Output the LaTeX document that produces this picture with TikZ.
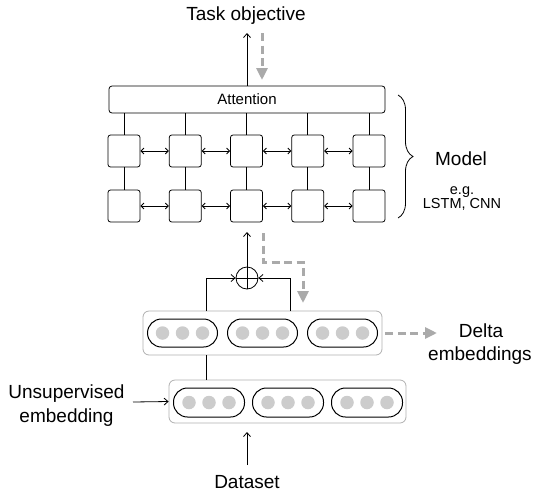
\documentclass[tikz,border=0pt]{standalone}
\usepackage{fontspec}
\setmainfont{Liberation Sans}
\usetikzlibrary{arrows.meta,decorations.pathreplacing,calc}
\definecolor{flowgray}{HTML}{AAAAAA}
\definecolor{dotgray}{HTML}{CCCCCC}
\definecolor{boxgray}{HTML}{B0B0B0}
\tikzset{
  biglabel/.style={font=\fontsize{19}{23}\selectfont, inner sep=0pt, align=center},
  smalllabel/.style={font=\fontsize{14.5}{15}\selectfont, inner sep=0pt},
  cellbox/.style={draw, rounded corners=2.5pt, minimum size=32pt, inner sep=0pt, line width=0.8pt},
  attnbox/.style={draw, rounded corners=3pt, minimum width=276pt, minimum height=27pt, inner sep=0pt, line width=0.8pt, font=\fontsize{15}{16}\selectfont},
  containerbox/.style={draw=boxgray, rounded corners=6pt, line width=0.8pt, inner sep=0pt},
  pillbox/.style={draw, rounded corners=14pt, minimum width=70pt, minimum height=28pt, inner sep=0pt, line width=1pt},
  dotnode/.style={circle, fill=dotgray, minimum size=13.5pt, inner sep=0pt},
  plusnode/.style={draw, circle, minimum size=22pt, inner sep=0pt, line width=0.8pt},
  link/.style={line width=0.8pt},
  arr/.style={line width=0.8pt, -{Straight Barb[length=4pt,width=7pt]}},
  dblarr/.style={line width=0.8pt, {Straight Barb[length=3pt,width=6pt]}-{Straight Barb[length=3pt,width=6pt]}},
  grayflow/.style={draw=flowgray, line width=3pt, dash pattern=on 8pt off 4.5pt, -{Triangle[length=12pt,width=11pt]}},
}
\begin{document}
\begin{tikzpicture}[x=1pt,y=-1pt]
\useasboundingbox (0,0) rectangle (535,493);

% top
\node[biglabel, anchor=base] (task) at (246,20) {Task objective};
\node[attnbox] (att) at (247,99.5) {Attention};
\coordinate (taskin) at (247,33);
\coordinate (gtop1) at (262,33);
\coordinate (gtop2) at (262,80);
\draw[arr] (att.north -| taskin) -- (taskin);
\draw[grayflow] (gtop1) -- (gtop2);

% cells
\foreach \i/\x in {1/124,2/185.25,3/246.5,4/307.75,5/369}{
  \node[cellbox] (a\i) at (\x,151) {};
  \node[cellbox] (b\i) at (\x,206) {};
  \draw[link] (att.south -| a\i) -- (a\i.north);
  \draw[link] (a\i.south) -- (b\i.north);
}
\foreach \i/\j in {1/2,2/3,3/4,4/5}{
  \draw[dblarr] (a\i.east) -- (a\j.west);
  \draw[dblarr] (b\i.east) -- (b\j.west);
}

% brace and model label
\coordinate (brtop) at (398,95);
\coordinate (brbot) at (398,218);
\draw[decorate, decoration={brace, amplitude=15pt}, line width=0.8pt] (brtop) -- (brbot);
\node[biglabel, anchor=base] (model) at (461,165) {Model};
\node[smalllabel, anchor=base] (eg) at (462,194) {e.g.};
\node[smalllabel, anchor=base] (lstm) at (462,208.5) {LSTM, CNN};

% plus
\node[plusnode] (plus) at (247,278) {};
\draw[link] (plus.north) -- (plus.south);
\draw[link] (plus.west) -- (plus.east);
\coordinate (plusup) at (247,232);
\draw[arr] (plus.north) -- (plusup);

% delta container
\node[containerbox, minimum width=239pt, minimum height=44pt] (delta) at (262.5,333) {};
\foreach \k/\x in {1/182.5,2/262.5,3/342.5}{
  \node[pillbox] (dp\k) at (\x,333) {};
  \foreach \d in {-20,0,20}{
    \node[dotnode] at ($(dp\k.center)+(\d,0)$) {};
  }
}
% unsupervised container
\node[containerbox, minimum width=237pt, minimum height=43pt] (unsup) at (287.5,401.5) {};
\foreach \k/\x in {1/209,2/288,3/367}{
  \node[pillbox, minimum width=71pt, minimum height=29pt] (up\k) at (\x,402.5) {};
  \foreach \d in {-20,0,20}{
    \node[dotnode] at ($(up\k.center)+(\d,0)$) {};
  }
}

% inputs to plus
\coordinate (lin) at (206.5,311);
\coordinate (rin) at (290,311);
\draw[arr] (lin) |- (plus.west);
\draw[arr] (rin) |- (plus.east);
\draw[link] (206.5,355) -- (206.5,380);

% gray elbow
\coordinate (g1) at (263,233);
\coordinate (g2) at (263,262);
\coordinate (g3) at (303,262);
\coordinate (g4) at (303,303);
\draw[grayflow] (g1) -- (g2) -- (g3) -- (g4);

% delta embeddings
\coordinate (dout) at (437,333);
\draw[grayflow] (delta.east) ++(3,0) -- (dout);
\node[biglabel, anchor=base] (dl1) at (481,337) {Delta};
\node[biglabel, anchor=base] (dl2) at (480,360) {embeddings};

% unsupervised embedding
\node[biglabel, anchor=base] (ul1) at (66.5,398) {Unsupervised};
\node[biglabel, anchor=base] (ul2) at (66.5,422) {embedding};
\coordinate (uin) at (133,402);
\draw[arr] (uin) -- (unsup.west);

% dataset
\node[biglabel, anchor=base] (data) at (247,488) {Dataset};
\coordinate (dsrc) at (247,465);
\coordinate (dtip) at (247,432);
\draw[arr] (dsrc) -- (dtip);
\end{tikzpicture}
\end{document}
